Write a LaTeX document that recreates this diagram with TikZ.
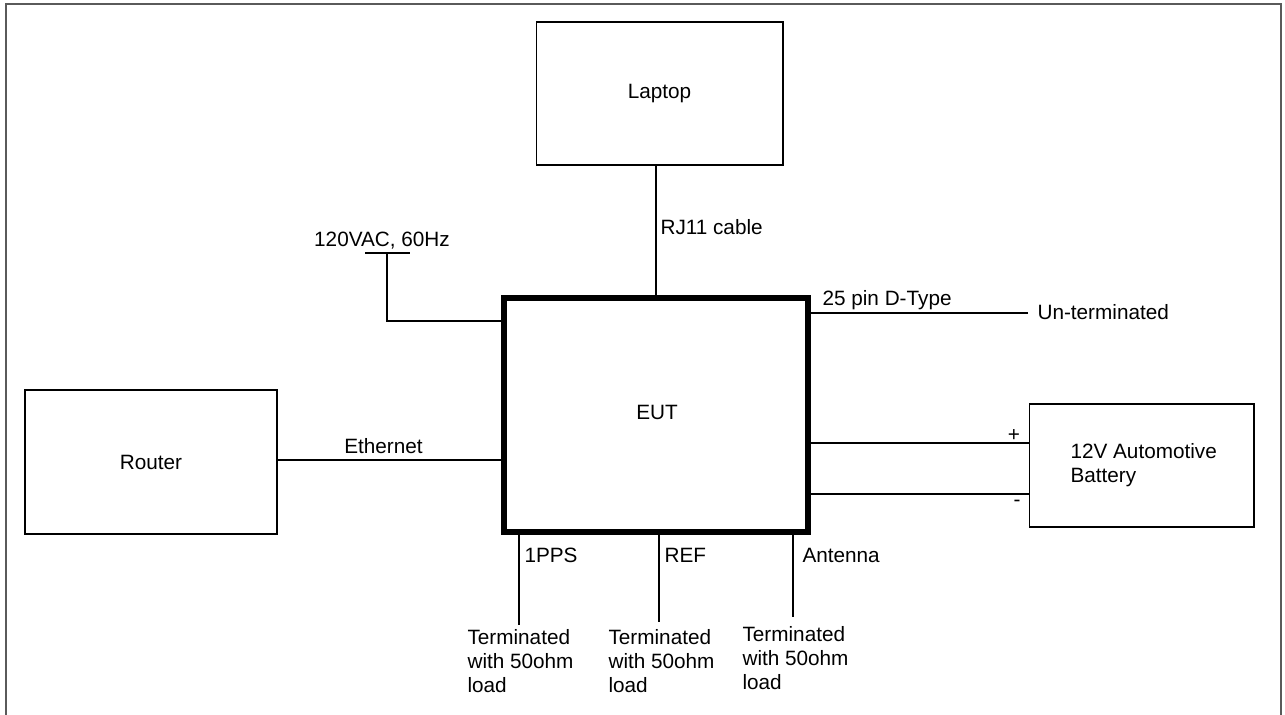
\documentclass[tikz,border=0pt]{standalone}
\usepackage{fontspec}
\setmainfont{Liberation Sans}
\usetikzlibrary{positioning}
\definecolor{framegray}{RGB}{90,90,90}
\tikzset{box/.style = {draw, inner sep = 0}}
\tikzset{eutbox/.style = {draw, line width = 3.4pt, inner sep = 0}}
\tikzset{lbl/.style = {inner sep = 0, anchor = west}}
\tikzset{termtext/.style = {inner sep = 0, anchor = north west, align = left}}

\begin{document}
\begin{tikzpicture}[x=0.02cm, y=-0.02cm, line width=0.6pt,
    every node/.style={font=\fontsize{11.8}{13.6}\selectfont}]
      \useasboundingbox (0,0) rectangle (1285,715);
      % outer frame
      \draw[framegray, line width=1.1pt] (6,715) -- (6,4.2) -- (1281,4.2) -- (1281,715);
      % units
      \node[box, minimum width=4.94cm, minimum height=2.86cm] (laptop) at (659.5,93.5) {Laptop};
      \node[eutbox, minimum width=6.08cm, minimum height=4.68cm] (eut) at (656,415) {};
      \node (euttext) at (657,412) {EUT};
      \node[box, minimum width=5.04cm, minimum height=2.88cm] (router) at (151,462) {Router};
      \node[box, minimum width=4.5cm, minimum height=2.46cm] (battery) at (1141.5,465.5) {};
      \node[termtext, anchor=west] (battext) at (1070,465) {12V Automotive\\Battery};
      % laptop link
      \draw (eut.north) -- (eut.north |- laptop.south);
      \node[lbl] (rj) at (660,227) {RJ11 cable};
      % mains
      \node (ac) at (382,241) {120VAC, 60Hz};
      \coordinate (acTick) at (387,253);
      \draw (365,253) -- (410,253);
      \draw (acTick) |- ([yshift=-0.52cm]eut.north west);
      % 25 pin
      \node[lbl] (unterm) at (1037,312) {Un-terminated};
      \coordinate (dEnd) at (1028,313);
      \draw (dEnd) -- (dEnd -| eut.east);
      \node[lbl] (dtype) at (822,300) {25 pin D-Type};
      % ethernet
      \draw ([yshift=0.04cm]router.east) -- ([yshift=0.04cm]router.east -| eut.west);
      \node (eth) at (383.5,446) {Ethernet};
      % battery
      \draw ([yshift=0.45cm]battery.west) -- ([yshift=0.45cm]battery.west -| eut.east);
      \draw ([yshift=-0.57cm]battery.west) -- ([yshift=-0.57cm]battery.west -| eut.east);
      \node (plus) at (1014,436) {+};
      \node (minus) at (1017,503) {-};
      % bottom ports
      \coordinate (ppsEnd) at (519,625);
      \coordinate (refEnd) at (659,622);
      \coordinate (antEnd) at (793,617);
      \draw (ppsEnd) -- (ppsEnd |- eut.south);
      \draw (refEnd) -- (refEnd |- eut.south);
      \draw (antEnd) -- (antEnd |- eut.south);
      \node[lbl] (pps) at (524,555) {1PPS};
      \node[lbl] (ref) at (664,555) {REF};
      \node[lbl] (ant) at (802,555) {Antenna};
      \node[termtext] (ppsLoad) at (467,629) {Terminated\\with 50ohm\\load};
      \node[termtext] (refLoad) at (608,629) {Terminated\\with 50ohm\\load};
      \node[termtext] (antLoad) at (742,626) {Terminated\\with 50ohm\\load};
    \end{tikzpicture}
\end{document}
